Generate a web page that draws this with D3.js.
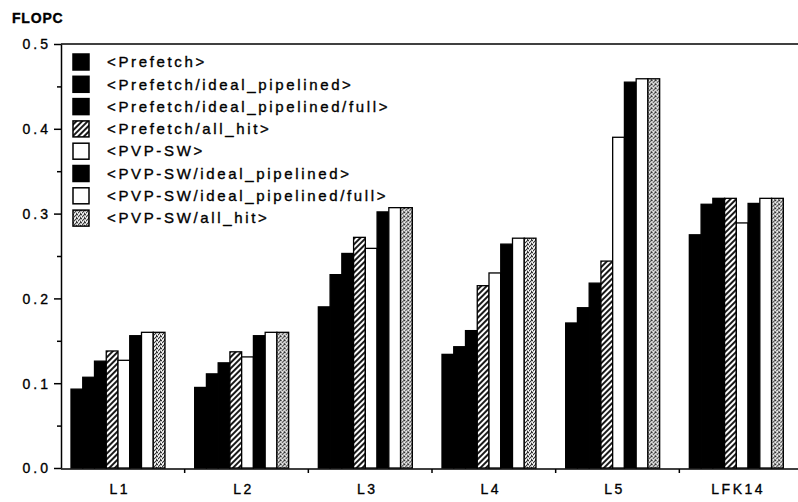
<!DOCTYPE html>
<html>
<head>
<meta charset="utf-8">
<script src="https://cdn.jsdelivr.net/npm/d3@7"></script>
<style>
  body { margin: 0; background: #fff; }
  svg { display: block; font-family: "Liberation Sans", Arial, sans-serif; }
  svg text { fill: #000; stroke: #000; stroke-width: 0.35px; }
  .axis path, .axis line { stroke: #000; stroke-width: 1.5; }
  .axis text { font-size: 14px; letter-spacing: 3px; }
</style>
</head>
<body>
<div id="chart"></div>
<script>
//
// FLOPC grouped bars
//

var categories = ['L1', 'L2', 'L3', 'L4', 'L5', 'LFK14'];
var seriesNames = ['<Prefetch>', '<Prefetch/ideal_pipelined>', '<Prefetch/ideal_pipelined/full>',
    '<Prefetch/all_hit>', '<PVP-SW>', '<PVP-SW/ideal_pipelined>', '<PVP-SW/ideal_pipelined/full>', '<PVP-SW/all_hit>'];

var prefetch          = [0.093, 0.095, 0.190, 0.134, 0.171, 0.275];
var prefetchIdeal     = [0.107, 0.111, 0.228, 0.143, 0.189, 0.311];
var prefetchIdealFull = [0.126, 0.124, 0.253, 0.162, 0.218, 0.318];
var prefetchAllHit    = [0.138, 0.137, 0.272, 0.215, 0.244, 0.318];
var pvpSw             = [0.127, 0.131, 0.259, 0.230, 0.390, 0.289];
var pvpSwIdeal        = [0.156, 0.156, 0.302, 0.264, 0.455, 0.312];
var pvpSwIdealFull    = [0.160, 0.160, 0.307, 0.271, 0.459, 0.318];
var pvpSwAllHit       = [0.160, 0.160, 0.307, 0.271, 0.459, 0.318];

var seriesValues = [prefetch, prefetchIdeal, prefetchIdealFull, prefetchAllHit,
    pvpSw, pvpSwIdeal, pvpSwIdealFull, pvpSwAllHit];

var majorTicks = [0, 0.1, 0.2, 0.3, 0.4, 0.5];
var minorTicks = [0.05, 0.15, 0.25, 0.35, 0.45];

var fills = ['#000', '#000', '#000', 'url(#hatch)', '#fff', '#000', '#fff', 'url(#stipple)'];

var width = 798, height = 502;
var plotLeft = 61, plotRight = 803, plotTop = 44, plotBottom = 468;

var svg = d3.select('#chart').append('svg')
    .attr('width', width)
    .attr('height', height);

// patterns
var defs = svg.append('defs');
var hatch = defs.append('pattern')
    .attr('id', 'hatch')
    .attr('patternUnits', 'userSpaceOnUse')
    .attr('width', 4).attr('height', 4)
    .attr('patternTransform', 'rotate(45)');
hatch.append('rect').attr('width', 4).attr('height', 4).attr('fill', '#fff');
hatch.append('line').attr('x1', 1).attr('y1', 0).attr('x2', 1).attr('y2', 4)
    .attr('stroke', '#000').attr('stroke-width', 1.8);

var stipple = defs.append('pattern')
    .attr('id', 'stipple')
    .attr('patternUnits', 'userSpaceOnUse')
    .attr('width', 4).attr('height', 4);
stipple.append('rect').attr('width', 4).attr('height', 4).attr('fill', '#c4c4c4');
[[0, 0], [2, 1], [1, 2], [3, 3], [3, 0]].forEach(function (p) {
    stipple.append('rect').attr('x', p[0]).attr('y', p[1]).attr('width', 1).attr('height', 1).attr('fill', '#333');
});
[[1, 0], [2, 3], [0, 2]].forEach(function (p) {
    stipple.append('rect').attr('x', p[0]).attr('y', p[1]).attr('width', 1).attr('height', 1).attr('fill', '#fff');
});

// scales
var x0 = d3.scaleBand().domain(categories).range([plotLeft, plotRight]).padding(0);
var x1 = d3.scaleBand().domain(d3.range(seriesNames.length)).range([10, 104]).padding(0);
var y = d3.scaleLinear().domain([0, 0.5]).range([plotBottom, plotTop]);

// bars
var groups = svg.append('g').selectAll('g')
    .data(categories)
    .enter()
    .append('g')
    .attr('transform', function (d) { return 'translate(' + x0(d) + ',0)'; });

groups.selectAll('rect')
    .data(function (d, ci) {
        return seriesValues.map(function (vals, si) { return { s: si, v: vals[ci] }; });
    })
    .enter()
    .append('rect')
    .attr('x', function (d) { return x1(d.s); })
    .attr('y', function (d) { return y(d.v); })
    .attr('width', x1.bandwidth())
    .attr('height', function (d) { return y(0) - y(d.v); })
    .attr('fill', function (d) { return fills[d.s]; })
    .attr('stroke', '#000')
    .attr('stroke-width', 1.3);

// top frame
svg.append('line')
    .attr('x1', plotLeft).attr('x2', width)
    .attr('y1', y(0.5)).attr('y2', y(0.5))
    .attr('stroke', '#000').attr('stroke-width', 1.5);

// y axis
svg.append('g')
    .attr('class', 'axis')
    .attr('transform', 'translate(' + plotLeft + ',0)')
    .call(d3.axisLeft(y).tickValues(majorTicks).tickFormat(d3.format('.1f')).tickSize(7).tickSizeOuter(0).tickPadding(3))
    .selectAll('text')
    .attr('dy', '0.35em');

svg.append('g')
    .attr('class', 'axis')
    .attr('transform', 'translate(' + plotLeft + ',0)')
    .call(d3.axisLeft(y).tickValues(minorTicks).tickFormat('').tickSize(4).tickSizeOuter(0))
    .select('.domain').remove();

// x axis
var xAxis = svg.append('g')
    .attr('class', 'axis')
    .attr('transform', 'translate(0,' + (plotBottom + 1) + ')')
    .call(d3.axisBottom(x0).tickSize(0).tickPadding(15).tickSizeOuter(0));
xAxis.select('.domain').attr('d', 'M' + plotLeft + ',0H' + width);
xAxis.selectAll('text')
    .attr('x', -3)
    .style('font-size', '14px')
    .style('letter-spacing', '2.5px');

// boundary ticks between groups
xAxis.selectAll('.sep')
    .data(categories.slice(1))
    .enter()
    .append('line')
    .attr('class', 'sep')
    .attr('x1', function (d) { return x0(d); })
    .attr('x2', function (d) { return x0(d); })
    .attr('y1', 0).attr('y2', 4);

// y title
svg.append('text')
    .attr('x', 12)
    .attr('y', 23)
    .style('font-size', '14px')
    .style('font-weight', 'bold')
    .style('letter-spacing', '0.8px')
    .text('FLOPC');

// legend
var legend = svg.append('g')
    .selectAll('g')
    .data(seriesNames)
    .enter()
    .append('g')
    .attr('transform', function (d, i) { return 'translate(73,' + (62 + i * 22.3) + ')'; });

legend.append('rect')
    .attr('x', 0).attr('y', -8)
    .attr('width', 16).attr('height', 16)
    .attr('fill', function (d, i) { return fills[i]; })
    .attr('stroke', '#000')
    .attr('stroke-width', 1.5);

legend.append('text')
    .attr('x', 34)
    .attr('dy', '0.35em')
    .style('font-size', '15px')
    .style('letter-spacing', '2.65px')
    .text(function (d) { return d; });
</script>
</body>
</html>
